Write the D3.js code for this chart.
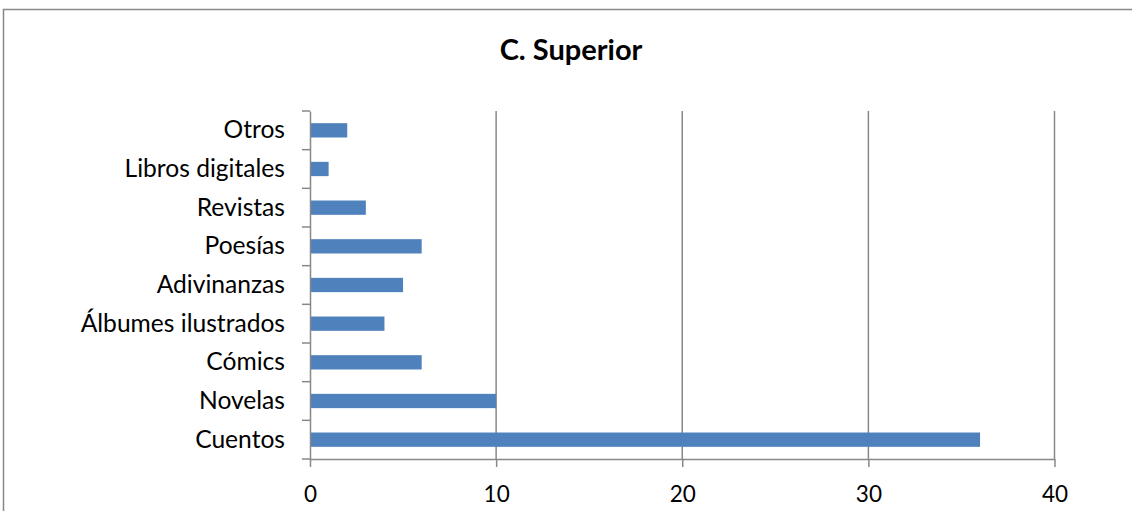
<!DOCTYPE html>
<html><head><meta charset="utf-8">
<script src="https://cdn.jsdelivr.net/npm/d3@7"></script>
<style>body{margin:0;background:#fff}svg{display:block}</style>
</head><body><svg id="c" width="1132" height="511"></svg>
<script>
const categories = ["Otros","Libros digitales","Revistas","Poesías","Adivinanzas","Álbumes ilustrados","Cómics","Novelas","Cuentos"];
const values = [2,1,3,6,5,4,6,10,36];
const xTicks = [0,10,20,30,40];
const title = "C. Superior";

const svg = d3.select("#c");
const font = "Lato, 'Open Sans', sans-serif";
svg.append("rect").attr("x",3.5).attr("y",9.5).attr("width",1140).attr("height",520)
  .attr("fill","#fff").attr("stroke","#888").attr("stroke-width",1.5);

const x = d3.scaleLinear().domain([0,40]).range([310,1054.5]);
const y = d3.scaleBand().domain(categories).range([111,459]).paddingInner(0.63).paddingOuter(0.315);
const yb = d3.scaleBand().domain(categories).range([111,459]);

const grid = svg.append("g");
grid.selectAll("line").data(xTicks.slice(1)).join("line")
  .attr("x1",d=>x(d)).attr("x2",d=>x(d)).attr("y1",111).attr("y2",459)
  .attr("stroke","#888").attr("stroke-width",1.5);

svg.append("g").selectAll("rect").data(categories).join("rect")
  .attr("x",x(0)).attr("y",d=>y(d)).attr("height",y.bandwidth())
  .attr("width",(d,i)=>x(values[i])-x(0)).attr("fill","#4F81BD");

const xa = svg.append("g").attr("transform","translate(0,459)")
  .call(d3.axisBottom(x).tickValues(xTicks).tickSize(8).tickPadding(19).tickSizeOuter(0));
xa.select(".domain").attr("stroke","#888").attr("stroke-width",1.5);
xa.selectAll(".tick line").attr("stroke","#888").attr("stroke-width",1.5);
xa.selectAll("text").attr("font-family",font).attr("font-size",22.5).attr("fill","#000");

const ya = svg.append("g").attr("transform","translate(310,0)")
  .call(d3.axisLeft(yb).tickSize(0).tickPadding(25));
ya.select(".domain").attr("stroke","#888").attr("stroke-width",1.5);
ya.selectAll("text").attr("font-family",font).attr("font-size",24.6).attr("fill","#000");
// category separator ticks
svg.append("g").selectAll("line").data(d3.range(categories.length+1)).join("line")
  .attr("x1",302).attr("x2",310)
  .attr("y1",i=>111+i*yb.step()).attr("y2",i=>111+i*yb.step())
  .attr("stroke","#888").attr("stroke-width",1.5);

svg.append("text").attr("x",571).attr("y",60).attr("text-anchor","middle")
  .attr("font-family",font).attr("font-weight","bold").attr("font-size",29).text(title);
</script></body></html>
